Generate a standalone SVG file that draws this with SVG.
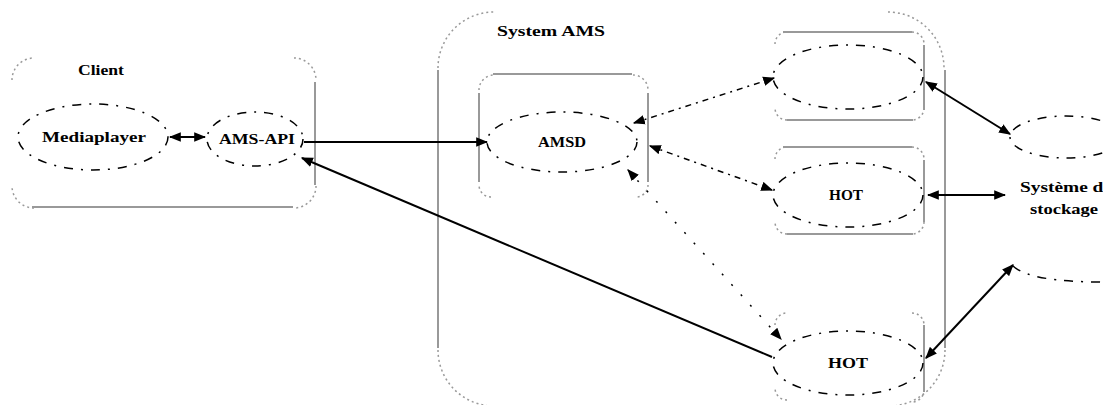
<svg xmlns="http://www.w3.org/2000/svg" width="1103" height="405" viewBox="0 0 1103 405">
  <defs>
    <marker id="arrow" viewBox="0 0 10 8" refX="9" refY="4" markerWidth="12" markerHeight="10" markerUnits="userSpaceOnUse" orient="auto-start-reverse">
      <path d="M0,0 L10,4 L0,8 Z" fill="#000"/>
    </marker>
  </defs>
  <style>
    .edge { stroke: #999; stroke-width: 2; fill: none; }
    .corner { stroke: #999; stroke-width: 1.5; fill: none; stroke-dasharray: 2 3; }
    .oval { stroke: #000; stroke-width: 1.5; fill: none; stroke-dasharray: 9 8 2 8; }
    .label { font-family: "Liberation Serif", "DejaVu Serif", serif; font-size: 14px; font-weight: bold; fill: #000; }
    .link { stroke: #000; stroke-width: 2; fill: none; }
    .dash { stroke: #000; stroke-width: 1.5; fill: none; stroke-dasharray: 6 5 2 5; }
    .sparse { stroke: #000; stroke-width: 1.5; fill: none; stroke-dasharray: 2 12; }
  </style>
  <rect width="1103" height="405" fill="#fff"/>

  <!-- Client container -->
  <g id="client">
    <path class="corner" d="M12,80 A22,22 0 0 1 34,58"/>
    <path class="corner" d="M294,58 A22,22 0 0 1 316,80"/>
    <path class="corner" d="M316,186 A22,22 0 0 1 294,208"/>
    <path class="corner" d="M34,208 A22,22 0 0 1 12,186"/>
    <path class="edge" d="M315,82 V185"/>
    <path class="edge" d="M32,207 H293"/>
    <text class="label" x="78" y="75" textLength="46" lengthAdjust="spacingAndGlyphs">Client</text>
  </g>

  <g id="mediaplayer">
    <ellipse class="oval" cx="93" cy="137" rx="75" ry="33"/>
    <text class="label" x="42" y="142" textLength="104" lengthAdjust="spacingAndGlyphs">Mediaplayer</text>
  </g>

  <g id="ams-api">
    <ellipse class="oval" cx="255" cy="139" rx="48" ry="27"/>
    <text class="label" x="219" y="144" textLength="76" lengthAdjust="spacingAndGlyphs">AMS-API</text>
  </g>

  <!-- System AMS container -->
  <g id="system-ams">
    <path class="corner" d="M438,68 A56,56 0 0 1 494,12"/>
    <path class="corner" d="M888,12 A56,56 0 0 1 944,68"/>
    <path class="corner" d="M438,350 A56,56 0 0 0 494,406"/>
    <path class="corner" d="M945,350 A56,56 0 0 1 889,406"/>
    <path class="edge" d="M438,70 V348"/>
    <path class="edge" d="M945,70 V348"/>
    <text class="label" x="497" y="36" textLength="108" lengthAdjust="spacingAndGlyphs">System AMS</text>
  </g>

  <g id="amsd">
    <path class="corner" d="M479,90 A15,15 0 0 1 494,75"/>
    <path class="corner" d="M633,75 A15,15 0 0 1 648,90"/>
    <path class="corner" d="M648,185 A12,12 0 0 1 636,197"/>
    <path class="corner" d="M491,197 A12,12 0 0 1 479,185"/>
    <path class="edge" d="M493,74 H632"/>
    <path class="edge" d="M479,93 V182"/>
    <path class="edge" d="M648,93 V182"/>
    <ellipse class="oval" cx="562" cy="142" rx="75" ry="30"/>
    <text class="label" x="538" y="147" textLength="48" lengthAdjust="spacingAndGlyphs">AMSD</text>
  </g>

  <g id="hot-top">
    <path class="corner" d="M775,44 A12,12 0 0 1 787,32"/>
    <path class="corner" d="M912,32 A12,12 0 0 1 924,44"/>
    <path class="corner" d="M924,108 A12,12 0 0 1 912,120"/>
    <path class="corner" d="M787,120 A12,12 0 0 1 775,108"/>
    <path class="edge" d="M783,32 H912"/>
    <path class="edge" d="M924,45 V110"/>
    <path class="edge" d="M787,120 H913"/>
    <ellipse class="oval" cx="848" cy="77" rx="75" ry="32"/>
  </g>

  <g id="hot-middle">
    <path class="corner" d="M775,159 A12,12 0 0 1 787,147"/>
    <path class="corner" d="M912,147 A12,12 0 0 1 924,159"/>
    <path class="corner" d="M924,222 A12,12 0 0 1 912,234"/>
    <path class="corner" d="M787,234 A12,12 0 0 1 775,222"/>
    <path class="edge" d="M783,147 H912"/>
    <path class="edge" d="M924,160 V222"/>
    <path class="edge" d="M787,234 H913"/>
    <ellipse class="oval" cx="848" cy="195" rx="75" ry="32"/>
    <text class="label" x="829" y="200" textLength="34" lengthAdjust="spacingAndGlyphs">HOT</text>
  </g>

  <g id="hot-bottom">
    <path class="corner" d="M775,325 A12,12 0 0 1 787,313"/>
    <path class="corner" d="M912,313 A12,12 0 0 1 924,325"/>
    <path class="corner" d="M924,390 A12,12 0 0 1 912,402"/>
    <path class="corner" d="M787,400 A12,12 0 0 1 775,388"/>
    <path class="edge" d="M924,325 V392"/>
    <ellipse class="oval" cx="848" cy="363" rx="75" ry="32"/>
    <text class="label" x="828" y="368" textLength="40" lengthAdjust="spacingAndGlyphs">HOT</text>
  </g>

  <!-- Storage system -->
  <g id="storage">
    <ellipse class="oval" cx="1066" cy="137" rx="56" ry="21"/>
    <path class="oval" d="M1013,266 Q1030,282 1103,282"/>
    <text class="label" x="1020" y="192" textLength="92" lengthAdjust="spacingAndGlyphs">Système de</text>
    <text class="label" x="1030" y="214" textLength="68" lengthAdjust="spacingAndGlyphs">stockage</text>
  </g>

  <!-- Connectors -->
  <g id="connectors">
    <path class="link" d="M170,137 L205,137" marker-start="url(#arrow)" marker-end="url(#arrow)"/>
    <path class="link" d="M304,142 L487,142" marker-end="url(#arrow)"/>
    <path class="link" d="M772,357 L302,158" marker-end="url(#arrow)"/>
    <path class="dash" d="M634,123 L774,78" marker-start="url(#arrow)" marker-end="url(#arrow)"/>
    <path class="dash" d="M650,146 L772,190" marker-start="url(#arrow)" marker-end="url(#arrow)"/>
    <path class="sparse" d="M628,170 L781,339" marker-start="url(#arrow)" marker-end="url(#arrow)"/>
    <path class="link" d="M926,82 L1010,134" marker-start="url(#arrow)" marker-end="url(#arrow)"/>
    <path class="link" d="M928,195 L1005,195" marker-start="url(#arrow)" marker-end="url(#arrow)"/>
    <path class="link" d="M926,358 L1013,265" marker-start="url(#arrow)" marker-end="url(#arrow)"/>
  </g>
</svg>
